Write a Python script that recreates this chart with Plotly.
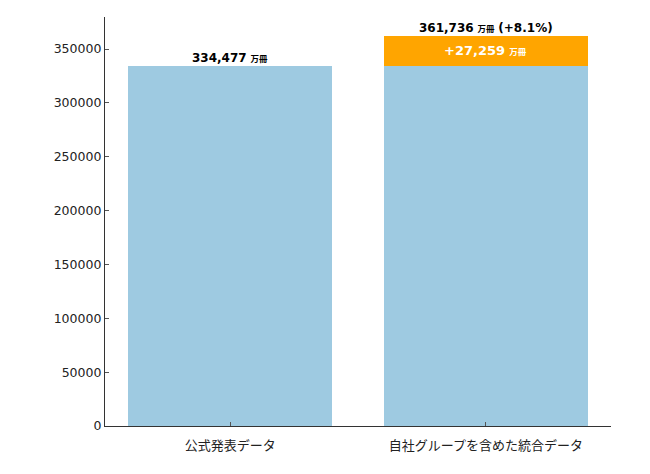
import plotly.graph_objects as go

categories = ["公式発表データ", "自社グループを含めた統合データ"]
base_values = [334477, 334477]
extra_values = [0, 27259]
totals = [334477, 361736]
growth_pct = [None, 8.1]

blue = "#9ecae1"
orange = "#ffa500"
x = list(range(len(categories)))

fig = go.Figure()
fig.add_trace(go.Bar(x=x, y=base_values, width=0.8, marker=dict(color=blue, line=dict(width=0)),
                     hoverinfo="skip"))
fig.add_trace(go.Bar(x=x, y=extra_values, width=0.8, marker=dict(color=orange, line=dict(width=0)),
                     hoverinfo="skip"))

num_font = dict(family="DejaVu Sans", size=12, color="black")
unit = "<span style='font-size:8.5px;font-family:Noto Sans CJK JP'>万冊</span>"

for i, t in enumerate(totals):
    txt = "<b>{:,}</b> <b>{}</b>".format(t, unit)
    if growth_pct[i] is not None:
        txt += " <b>(+{}%)</b>".format(growth_pct[i])
    fig.add_annotation(x=x[i], y=t, text=txt, showarrow=False, yanchor="bottom",
                       yshift=-1, font=num_font)

for i, e in enumerate(extra_values):
    if e > 0:
        fig.add_annotation(x=x[i], y=base_values[i] + e / 2,
                           text="<b>+{:,}</b> <b>{}</b>".format(e, unit),
                           showarrow=False, yanchor="middle", yshift=1,
                           font=dict(family="DejaVu Sans", size=13, color="white"))

# page body has an 8px margin, so margins are shifted to compensate
axis_col = "#333333"
fig.update_layout(
    width=650, height=474,
    margin=dict(l=97, r=47, t=9, b=56),
    barmode="stack", showlegend=False,
    plot_bgcolor="white", paper_bgcolor="white",
    xaxis=dict(range=[-0.49, 1.49], tickvals=x, ticktext=categories,
               showline=True, linecolor=axis_col, linewidth=1.2,
               ticks="inside", ticklen=4, tickcolor="#555555", showgrid=False,
               zeroline=False, ticklabelstandoff=7,
               tickfont=dict(family="Noto Sans CJK JP", size=13, color="#222222")),
    yaxis=dict(range=[0, 379800], tickvals=[0, 50000, 100000, 150000, 200000, 250000, 300000, 350000],
               tickformat="d", showline=True, linecolor=axis_col, linewidth=1.2,
               ticks="inside", ticklen=4, tickcolor="#555555", showgrid=False,
               zeroline=False,
               tickfont=dict(family="DejaVu Sans", size=12.5, color="#222222")),
)

fig.write_html("out.html")
